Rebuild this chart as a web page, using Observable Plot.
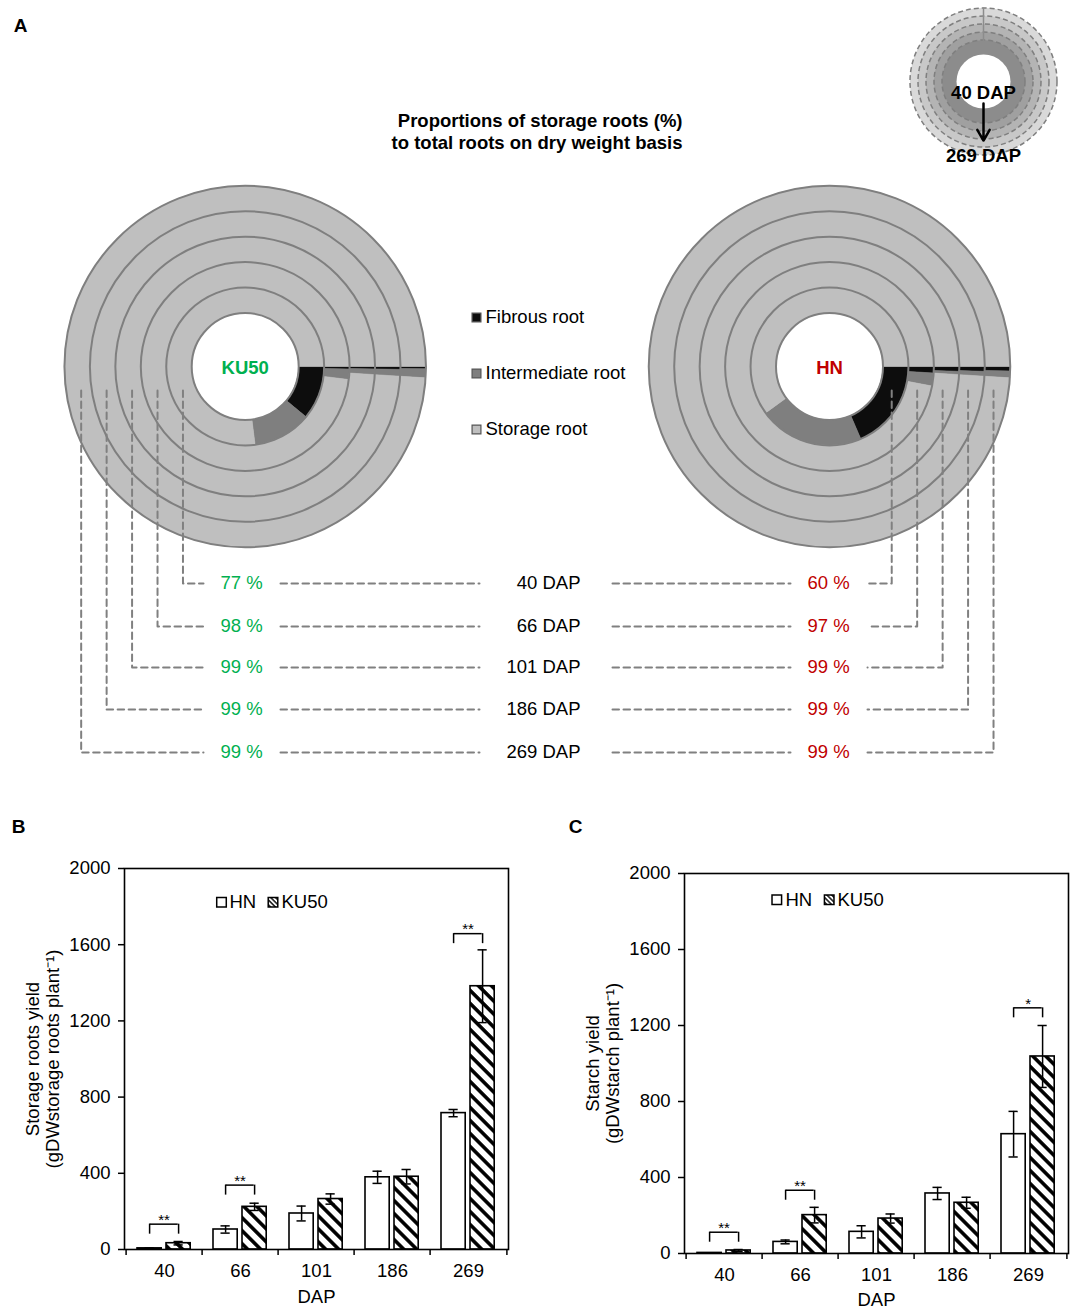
<!DOCTYPE html>
<html><head><meta charset="utf-8">
<script src="https://cdn.jsdelivr.net/npm/d3@7"></script>
<script src="https://cdn.jsdelivr.net/npm/@observablehq/plot@0.6"></script>
<style>
body{margin:0;background:#fff;}
#page{position:relative;width:1072px;height:1310px;background:#fff;}
#page svg{position:absolute;max-width:none;}
</style></head><body><div id="page"></div>
<script>
// ================= DATA =================
const dapDays = ["40", "66", "101", "186", "269"];
const dapLabels = ["40 DAP", "66 DAP", "101 DAP", "186 DAP", "269 DAP"];
const rootTypes = ["Fibrous root", "Intermediate root", "Storage root"];
const rootColors = ["#0d0d0d", "#7f7f7f", "#bfbfbf"];
const genotypes = ["KU50", "HN"];
const genotypeColors = ["#00b050", "#c00000"];

// Panel A: root proportions (%), rings from 40 DAP (inner) to 269 DAP (outer)
const ku50Fibrous = [11, 0.4, 0.3, 0.3, 0.2];
const ku50Intermediate = [12, 1.6, 0.7, 0.7, 0.8];
const ku50Storage = [77, 98, 99, 99, 99];
const hnFibrous = [18.5, 1.0, 0.6, 0.5, 0.4];
const hnIntermediate = [21.5, 2.0, 0.4, 0.5, 0.6];
const hnStorage = [60, 97, 99, 99, 99];
const ku50StorageLabels = ["77 %", "98 %", "99 %", "99 %", "99 %"];
const hnStorageLabels = ["60 %", "97 %", "99 %", "99 %", "99 %"];
const titleLines = ["Proportions of storage roots (%)", "to total roots on dry weight basis"];

// Panel B: storage roots yield
const srHN = [6, 105, 189, 379, 716];
const srHNerr = [2, 19, 39, 32, 19];
const srKU50 = [33, 224, 265, 382, 1382];
const srKU50err = [9, 19, 27, 38, 191];
const srSigDap = ["40", "66", "269"];
const srSigY = [133, 338, 1658];
const srSigLabel = ["**", "**", "**"];

// Panel C: starch yield
const stHN = [3, 61, 114, 316, 628];
const stHNerr = [1, 10, 32, 32, 120];
const stKU50 = [16, 202, 184, 267, 1037];
const stKU50err = [5, 41, 24, 29, 163];
const stSigDap = ["40", "66", "269"];
const stSigY = [112, 333, 1293];
const stSigLabel = ["**", "**", "*"];

const yTicks = [0, 400, 800, 1200, 1600, 2000];

// ================= STYLE / LAYOUT =================
const FONT = '"Liberation Sans", Arial, Helvetica, sans-serif';
const FS = 18.5;
const page = document.getElementById("page");

const LA = {
  width: 1072, height: 800,
  centers: [[244.7, 366], [829, 366]],
  hole: 53.5, ringW: 25.45, startAngle: 0,
  ringStroke: "#7f7f7f",
  connTop: 390,
  rowY: [583, 626, 667, 709, 752],
  pctX: [241, 828], dapX: 580,
  leftEnd: 203, rightStart: 867,
  mid: [[280, 479], [612, 790]],
  legendX: 476, legendY: [317, 373, 429],
  inset: {cx: 983, cy: 81, radii: [73.5, 65.5, 57.5, 49.5, 41.5], fills: ["#d9d9d9", "#c8c8c8", "#b4b4b4", "#a0a0a0", "#8c8c8c"], hole: 27}
};

function sector(cx, cy, r0, r1, a0, a1, id, fill) {
  const pts = [];
  const n = Math.max(2, Math.ceil((a1 - a0) / 0.5));
  for (let k = 0; k <= n; k++) {
    const a = (a0 + (a1 - a0) * k / n) * Math.PI / 180;
    pts.push({id, fill, x: cx + r1 * Math.cos(a), y: cy + r1 * Math.sin(a)});
  }
  for (let k = n; k >= 0; k--) {
    const a = (a0 + (a1 - a0) * k / n) * Math.PI / 180;
    pts.push({id, fill, x: cx + r0 * Math.cos(a), y: cy + r0 * Math.sin(a)});
  }
  pts.push({...pts[0]});
  return pts;
}

// ---------- Panel A ----------
const slicePts = [];
genotypes.forEach((g, gi) => {
  const [cx, cy] = LA.centers[gi];
  const parts = gi === 0 ? [ku50Fibrous, ku50Intermediate, ku50Storage] : [hnFibrous, hnIntermediate, hnStorage];
  dapDays.forEach((d, ri) => {
    let cum = 0;
    rootTypes.forEach((t, ti) => {
      const v = parts[ti][ri];
      const a0 = LA.startAngle + cum * 3.6, a1 = LA.startAngle + (cum + v) * 3.6;
      cum += v;
      slicePts.push(...sector(cx, cy, LA.hole + ri * LA.ringW, LA.hole + (ri + 1) * LA.ringW, a0, a1, `${g}-${d}-${t}`, rootColors[ti]));
    });
  });
});

const centerPts = LA.centers.map(([x, y], i) => ({x, y, g: genotypes[i], c: genotypeColors[i]}));
const ringMarks = d3.range(dapDays.length + 1).map(k =>
  Plot.dot(centerPts, {x: "x", y: "y", r: LA.hole + k * LA.ringW, fill: "none", stroke: LA.ringStroke, strokeWidth: 2}));

const connPts = [];
genotypes.forEach((g, gi) => {
  const [cx] = LA.centers[gi];
  const side = gi === 0 ? -1 : 1;
  dapDays.forEach((d, ri) => {
    const vx = cx + side * (LA.hole + (ri + 0.5) * LA.ringW - 4);
    const hx = gi === 0 ? LA.leftEnd : LA.rightStart;
    const id = `${g}-${d}`;
    connPts.push({id, x: vx, y: LA.connTop}, {id, x: vx, y: LA.rowY[ri]}, {id, x: hx, y: LA.rowY[ri]});
  });
});
dapDays.forEach((d, ri) => {
  LA.mid.forEach(([a, b], mi) => {
    connPts.push({id: `m${mi}-${d}`, x: a, y: LA.rowY[ri]}, {id: `m${mi}-${d}`, x: b, y: LA.rowY[ri]});
  });
});

const pctText = [];
dapDays.forEach((d, ri) => {
  pctText.push({x: LA.pctX[0], y: LA.rowY[ri], t: ku50StorageLabels[ri], c: genotypeColors[0]});
  pctText.push({x: LA.pctX[1], y: LA.rowY[ri], t: hnStorageLabels[ri], c: genotypeColors[1]});
});
const dapText = dapLabels.map((t, ri) => ({x: LA.dapX, y: LA.rowY[ri], t}));
const legendRows = rootTypes.map((t, i) => ({x: LA.legendX, y: LA.legendY[i], t, c: rootColors[i]}));
const I = LA.inset;
const insetCenter = [{x: I.cx, y: I.cy}];

const plotA = Plot.plot({
  width: LA.width, height: LA.height, margin: 0,
  x: {type: "linear", domain: [0, LA.width], range: [0, LA.width], axis: null},
  y: {type: "linear", domain: [0, LA.height], range: [0, LA.height], axis: null},
  color: {type: "identity"},
  style: {fontFamily: FONT, fontSize: FS + "px", background: "transparent", overflow: "visible"},
  marks: [
    Plot.line(slicePts, {x: "x", y: "y", z: "id", fill: "fill", stroke: "fill", strokeWidth: 0.6, curve: "linear"}),
    ...ringMarks,
    Plot.line(connPts, {x: "x", y: "y", z: "id", stroke: "#808080", strokeWidth: 2, strokeDasharray: "6.5,4.5", curve: "linear"}),
    Plot.text(centerPts, {x: "x", y: "y", text: "g", fill: "c", fontWeight: "bold", fontSize: FS, dy: 2}),
    Plot.text(pctText, {x: "x", y: "y", text: "t", fill: "c", fontSize: FS}),
    Plot.text(dapText, {x: "x", y: "y", text: "t", fill: "black", fontSize: FS, textAnchor: "end"}),
    Plot.dot(legendRows, {x: "x", y: "y", symbol: "square", r: 5, fill: "c", stroke: "#555", strokeWidth: 1.2}),
    Plot.text(legendRows, {x: "x", y: "y", text: "t", dx: 9, textAnchor: "start", fontSize: FS, fill: "black"}),
    Plot.text([titleLines.join("\n")], {x: () => 682, y: () => 130, text: d => d, textAnchor: "end", fontWeight: "bold", fontSize: FS, lineHeight: 1.2}),
    Plot.text(["A"], {x: () => 20, y: () => 25, text: d => d, fontWeight: "bold", fontSize: 19}),
    // inset key
    ...I.radii.map((r, k) => Plot.dot(insetCenter, {x: "x", y: "y", r, fill: I.fills[k], stroke: "#7f7f7f", strokeWidth: 1.5, strokeDasharray: "5,3"})),
    Plot.dot(insetCenter, {x: "x", y: "y", r: I.hole, fill: "white", stroke: "none"}),
    Plot.ruleX(insetCenter, {x: "x", y1: d => d.y - I.radii[0], y2: d => d.y - I.hole - 10, stroke: "#8c8c8c", strokeWidth: 1.5}),
    Plot.text(["40 DAP"], {x: () => I.cx, y: () => I.cy + 12, text: d => d, fontWeight: "bold", fontSize: FS}),
    Plot.arrow(insetCenter, {x1: "x", x2: "x", y1: d => d.y + 22, y2: d => d.y + 59, stroke: "black", strokeWidth: 2.5, headLength: 9}),
    Plot.text(["269 DAP"], {x: () => I.cx, y: () => I.cy + 75, text: d => d, fontWeight: "bold", fontSize: FS})
  ]
});
plotA.style.left = "0px"; plotA.style.top = "0px";
page.appendChild(plotA);

// ---------- Panels B & C ----------
function addHatch(svg, id, spacing, width) {
  const defs = d3.select(svg).insert("defs", ":first-child");
  const p = defs.append("pattern").attr("id", id).attr("patternUnits", "userSpaceOnUse")
    .attr("width", spacing).attr("height", spacing).attr("patternTransform", "rotate(-45)");
  p.append("rect").attr("width", spacing).attr("height", spacing).attr("fill", "white");
  p.append("line").attr("x1", spacing / 2).attr("y1", -1).attr("x2", spacing / 2).attr("y2", spacing + 1)
    .attr("stroke", "black").attr("stroke-width", width);
}

function barPanel(o) {
  const rows = dapDays.map((d, i) => ({dap: d, hn: o.hn[i], hnErr: o.hnErr[i], ku: o.ku[i], kuErr: o.kuErr[i]}));
  const sig = o.sigDap.map((d, i) => ({dap: d, y: o.sigY[i], label: o.sigLabel[i]}));
  const bw = (o.width - o.ml - o.mr) / dapDays.length;
  const barW = 25, hnL = 11, kuL = 40, capHalf = 5;
  const hnC = hnL + barW / 2 - bw / 2, kuC = kuL + barW / 2 - bw / 2;
  const upp = 2000 / (o.height - o.mt - o.mb);
  const legLen = 10 * upp, tickLen = 6 * upp;
  const svg = Plot.plot({
    width: o.width, height: o.height,
    marginTop: o.mt, marginRight: o.mr, marginBottom: o.mb, marginLeft: o.ml,
    style: {fontFamily: FONT, fontSize: FS + "px", color: "black", background: "transparent", overflow: "visible"},
    x: {type: "band", domain: dapDays, padding: 0},
    y: {domain: [0, 2000]},
    marks: [
      Plot.barY(rows, {x: "dap", y: "hn", insetLeft: hnL, insetRight: bw - hnL - barW, fill: "white", stroke: "black", strokeWidth: 1.6}),
      Plot.barY(rows, {x: "dap", y: "ku", insetLeft: kuL, insetRight: bw - kuL - barW, fill: `url(#${o.hatchId})`, stroke: "black", strokeWidth: 1.6}),
      Plot.ruleX(rows, {x: "dap", y1: d => d.hn - d.hnErr, y2: d => d.hn + d.hnErr, dx: hnC, stroke: "black", strokeWidth: 1.5}),
      Plot.ruleX(rows, {x: "dap", y1: d => d.ku - d.kuErr, y2: d => d.ku + d.kuErr, dx: kuC, stroke: "black", strokeWidth: 1.5}),
      Plot.tickY(rows, {x: "dap", y: d => d.hn + d.hnErr, insetLeft: bw / 2 + hnC - capHalf, insetRight: bw / 2 - hnC - capHalf, stroke: "black", strokeWidth: 1.5}),
      Plot.tickY(rows, {x: "dap", y: d => d.hn - d.hnErr, insetLeft: bw / 2 + hnC - capHalf, insetRight: bw / 2 - hnC - capHalf, stroke: "black", strokeWidth: 1.5}),
      Plot.tickY(rows, {x: "dap", y: d => d.ku + d.kuErr, insetLeft: bw / 2 + kuC - capHalf, insetRight: bw / 2 - kuC - capHalf, stroke: "black", strokeWidth: 1.5}),
      Plot.tickY(rows, {x: "dap", y: d => d.ku - d.kuErr, insetLeft: bw / 2 + kuC - capHalf, insetRight: bw / 2 - kuC - capHalf, stroke: "black", strokeWidth: 1.5}),
      // significance brackets
      Plot.tickY(sig, {x: "dap", y: "y", insetLeft: bw / 2 + hnC, insetRight: bw / 2 - kuC, stroke: "black", strokeWidth: 1.5}),
      Plot.ruleX(sig, {x: "dap", y1: "y", y2: d => d.y - legLen, dx: hnC, stroke: "black", strokeWidth: 1.5}),
      Plot.ruleX(sig, {x: "dap", y1: "y", y2: d => d.y - legLen, dx: kuC, stroke: "black", strokeWidth: 1.5}),
      Plot.text(sig, {x: "dap", y: "y", text: "label", dx: (hnC + kuC) / 2, dy: -4, fontSize: 15, fill: "black"}),
      // axes
      Plot.axisY({ticks: yTicks, tickSize: 6, tickPadding: 8, fontSize: FS, label: null, tickFormat: d => String(d), strokeWidth: 1.5}),
      Plot.axisX({tickSize: 0, tickPadding: 14, fontSize: FS, label: null}),
      Plot.ruleX(dapDays, {x: d => d, dx: -bw / 2, y1: 0, y2: -tickLen, stroke: "black", strokeWidth: 1.5}),
      Plot.ruleX(dapDays.slice(-1), {x: d => d, dx: bw / 2, y1: 0, y2: -tickLen, stroke: "black", strokeWidth: 1.5}),
      Plot.frame({stroke: "black", strokeWidth: 1.6}),
      Plot.text(["DAP"], {frameAnchor: "bottom", lineAnchor: "middle", dy: o.dapDy, text: d => d, fontSize: FS, fill: "black"}),
      Plot.text([o.yLabel], {frameAnchor: "left", textAnchor: "middle", lineAnchor: "middle", dx: -82, rotate: -90, text: d => d, fontSize: FS, lineHeight: 1.1, fill: "black"}),
      Plot.text([o.letter], {frameAnchor: "top-left", lineAnchor: "middle", textAnchor: "middle", dx: o.letterDx, dy: o.letterDy, text: d => d, fontWeight: "bold", fontSize: 19, fill: "black"}),
      // legend
      Plot.dot([0], {frameAnchor: "top-left", dx: o.leg[0], dy: o.leg[4], symbol: "square", r: 5.4, fill: "white", stroke: "black", strokeWidth: 1.5}),
      Plot.text(["HN"], {frameAnchor: "top-left", lineAnchor: "middle", dx: o.leg[1], dy: o.leg[4], text: d => d, textAnchor: "start", fontSize: FS, fill: "black"}),
      Plot.dot([0], {frameAnchor: "top-left", dx: o.leg[2], dy: o.leg[4], symbol: "square", r: 5.4, fill: `url(#${o.hatchId}L)`, stroke: "black", strokeWidth: 1.5}),
      Plot.text(["KU50"], {frameAnchor: "top-left", lineAnchor: "middle", dx: o.leg[3], dy: o.leg[4], text: d => d, textAnchor: "start", fontSize: FS, fill: "black"})
    ]
  });
  addHatch(svg, o.hatchId, 9.2, 3.6);
  addHatch(svg, o.hatchId + "L", 3.4, 1.4);
  svg.style.left = o.left + "px"; svg.style.top = o.top + "px";
  page.appendChild(svg);
}

barPanel({
  hn: srHN, hnErr: srHNerr, ku: srKU50, kuErr: srKU50err,
  sigDap: srSigDap, sigY: srSigY, sigLabel: srSigLabel,
  width: 536, height: 510, mt: 68, mr: 28, mb: 61, ml: 124, left: 0, top: 800,
  hatchId: "hatchB", dapDy: 48, letter: "B", letterDx: -106, letterDy: -42,
  leg: [97, 105, 148.5, 157, 33.7],
  yLabel: "Storage roots yield\n(gDWstorage roots plant\u207B\u00B9)"
});
barPanel({
  hn: stHN, hnErr: stHNerr, ku: stKU50, kuErr: stKU50err,
  sigDap: stSigDap, sigY: stSigY, sigLabel: stSigLabel,
  width: 536, height: 510, mt: 73, mr: 4, mb: 57, ml: 148, left: 536, top: 800,
  hatchId: "hatchC", dapDy: 47, letter: "C", letterDx: -109, letterDy: -47,
  leg: [92.3, 101, 144.7, 153, 26.2],
  yLabel: "Starch yield\n(gDWstarch plant\u207B\u00B9)"
});
</script></body></html>
